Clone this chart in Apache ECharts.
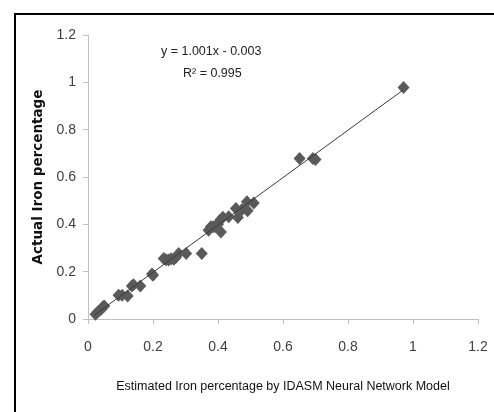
<!DOCTYPE html>
<html>
<head>
<meta charset="utf-8">
<script src="https://cdn.jsdelivr.net/npm/echarts@6/dist/echarts.min.js"></script>
<style>
  html, body { margin: 0; padding: 0; background: #fff; }
  #chart { width: 494px; height: 412px; }
</style>
</head>
<body>
<div id="chart"></div>
<script>
// estimated vs actual iron percentage
var estimated = [0.023, 0.03, 0.04, 0.046, 0.05, 0.094, 0.105, 0.122, 0.135, 0.14, 0.161, 0.197, 0.2,
  0.233, 0.24, 0.248, 0.256, 0.264, 0.27, 0.279, 0.302, 0.35, 0.371, 0.378, 0.385, 0.392, 0.4, 0.407,
  0.409, 0.415, 0.433, 0.455, 0.461, 0.474, 0.489, 0.491, 0.51, 0.651, 0.692, 0.70, 0.971];
var actual = [0.02, 0.03, 0.04, 0.052, 0.055, 0.10, 0.10, 0.097, 0.139, 0.145, 0.139, 0.19, 0.185,
  0.256, 0.25, 0.249, 0.255, 0.252, 0.26, 0.277, 0.277, 0.277, 0.375, 0.39, 0.39, 0.39, 0.40, 0.418,
  0.368, 0.43, 0.432, 0.467, 0.429, 0.463, 0.495, 0.457, 0.49, 0.678, 0.678, 0.674, 0.978];
// trend line ends
var trendX = [0.02, 0.97];
var trendY = [0.017, 0.968];
var xTicks = [0, 0.2, 0.4, 0.6, 0.8, 1, 1.2];
var yTicks = [0, 0.2, 0.4, 0.6, 0.8, 1, 1.2];
var equationLines = ["y = 1.001x - 0.003", "R\u00b2 = 0.995"];

var points = [];
for (var i = 0; i < estimated.length; i++) {
  points.push([estimated[i], actual[i]]);
}
var trend = [];
for (var j = 0; j < trendX.length; j++) {
  trend.push([trendX[j], trendY[j]]);
}

var sans = "'Liberation Sans', Arial, sans-serif";
var myChart = echarts.init(document.getElementById("chart"));

var option = {
  animation: false,
  grid: { left: 88, right: 16, top: 35, bottom: 93 },
  xAxis: {
    type: "value",
    min: 0, max: 1.2, interval: 0.2,
    name: "Estimated Iron percentage by IDASM Neural Network Model",
    nameLocation: "middle",
    nameGap: 61,
    nameTextStyle: { fontFamily: sans, fontSize: 12.5, color: "#111" },
    splitLine: { show: false },
    axisLine: { lineStyle: { color: "#c0c0c0" } },
    axisTick: { length: 5, lineStyle: { color: "#c0c0c0" } },
    axisLabel: {
      fontFamily: sans, fontSize: 14, color: "#404040", margin: 21,
      formatter: function (v) { return xTicks.indexOf(+v.toFixed(1)) >= 0 ? String(+v.toFixed(1)) : ""; }
    }
  },
  yAxis: {
    type: "value",
    min: 0, max: 1.2, interval: 0.2,
    name: "Actual Iron percentage",
    nameLocation: "middle",
    nameGap: 37,
    nameTextStyle: { fontFamily: "'DejaVu Sans', sans-serif", fontSize: 13.5, fontWeight: "bold", color: "#111" },
    splitLine: { show: false },
    axisLine: { show: true, lineStyle: { color: "#c0c0c0" } },
    axisTick: { show: true, length: 5, lineStyle: { color: "#c0c0c0" } },
    axisLabel: {
      fontFamily: sans, fontSize: 14, color: "#404040", margin: 12,
      formatter: function (v) { return yTicks.indexOf(+v.toFixed(1)) >= 0 ? String(+v.toFixed(1)) : ""; }
    }
  },
  graphic: [
    {
      type: "rect",
      shape: { x: 15, y: 14, width: 600, height: 500 },
      style: { fill: "none", stroke: "#000", lineWidth: 2 },
      silent: true
    },
    {
      type: "text", left: 161, top: 45,
      style: { text: equationLines[0], font: "12.5px " + sans, fill: "#222" }
    },
    {
      type: "text", left: 183, top: 67,
      style: { text: equationLines[1], font: "12.5px " + sans, fill: "#222" }
    }
  ],
  series: [
    {
      type: "line",
      data: trend,
      symbol: "none",
      lineStyle: { color: "#3a3a3a", width: 1 },
      z: 3
    },
    {
      type: "scatter",
      data: points,
      symbol: "diamond",
      symbolSize: [12, 13],
      itemStyle: { color: "#5a5a5a", opacity: 1 },
      z: 2
    }
  ]
};

myChart.setOption(option, true);
</script>
</body>
</html>
